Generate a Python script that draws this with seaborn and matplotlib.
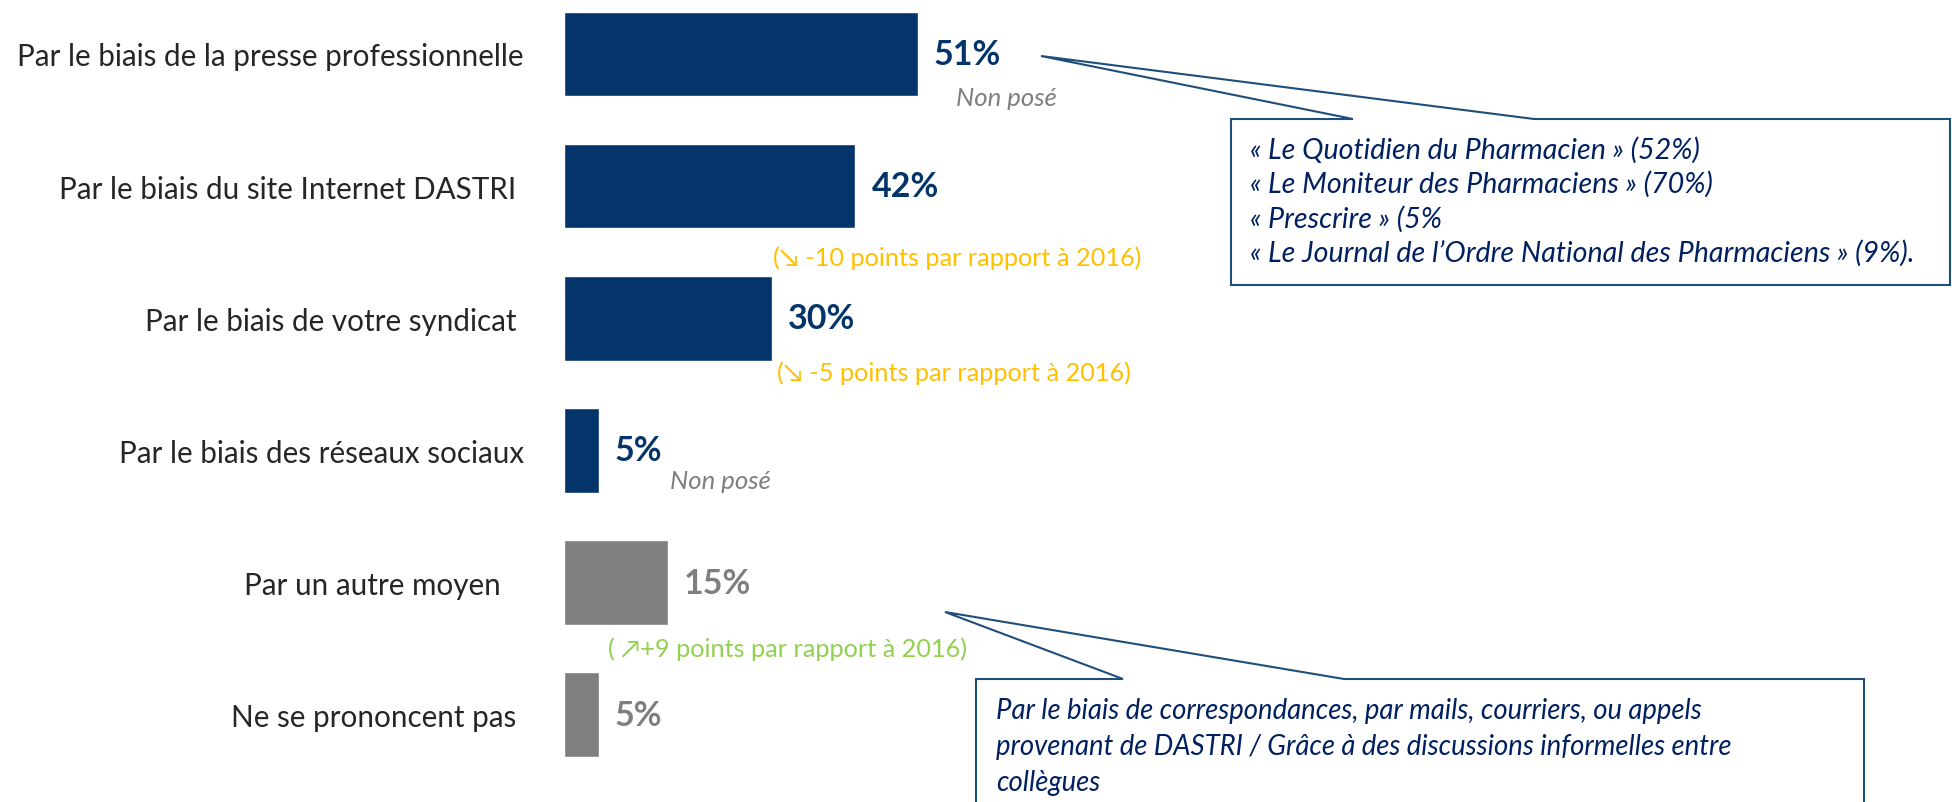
import matplotlib
matplotlib.use('Agg')
import matplotlib.pyplot as plt
from matplotlib.patches import Polygon
import seaborn as sns
import pandas as pd

categories = ['Par le biais de la presse professionnelle',
              'Par le biais du site Internet DASTRI ',
              'Par le biais de votre syndicat ',
              'Par le biais des réseaux sociaux',
              'Par un autre moyen   ',
              'Ne se prononcent pas ']
values = [51, 42, 30, 5, 15, 5]
bar_colors = ['#03356A', '#03356A', '#03356A', '#03356A', '#7F7F7F', '#7F7F7F']

evolutions = ['(\u2198 -10 points par rapport à 2016)',
              '(\u2198 -5 points par rapport à 2016)',
              '( \u2197+9 points par rapport à 2016)']
evo_colors = ['#FFC000', '#FFC000', '#92D050']

press_titles = ['« Le Quotidien du Pharmacien » (52%)',
                '« Le Moniteur des Pharmaciens » (70%)',
                '« Prescrire » (5%',
                '« Le Journal de l\u2019Ordre National des Pharmaciens » (9%).']
other_text = ['Par le biais de correspondances, par mails, courriers, ou appels',
              'provenant de DASTRI / Grâce à des discussions informelles entre',
              'collègues']

df = pd.DataFrame({'cat': categories, 'val': values})

sns.set_style('white')
plt.rcParams['font.family'] = ['Lato', 'DejaVu Sans']

W, H = 1952, 803
fig = plt.figure(figsize=(W / 100, H / 100), dpi=100)
ax = fig.add_axes([564 / W, 0, (W - 564) / W, 1])

sns.barplot(data=df, x='val', y='cat', hue='cat', palette=bar_colors,
            order=categories, width=0.64, legend=False, ax=ax, saturation=1)
ax.set_xlim(0, (W - 564) / 6.94)
ax.set_ylim(5.66, -0.415)
ax.set_xlabel('')
ax.set_ylabel('')
ax.set_xticks([])
sns.despine(ax=ax, left=True, bottom=True)
ax.tick_params(axis='y', length=0, pad=29, labelsize=21.3, labelcolor='#262626')

for i, v in enumerate(values):
    ax.annotate(f'{v}%', xy=(v, i), xytext=(11.5, 0), textcoords='offset points',
                ha='left', va='center', fontsize=24.5, fontweight='bold',
                color=bar_colors[i])

# "Non posé" notes
for x, y in [(63.8, 0.33), (22.6, 3.23)]:
    ax.text(x, y, 'Non posé', ha='center', va='center', fontsize=18.5,
            style='italic', color='#7F7F7F')

# evolution notes
for (x, y), txt, c in zip([(56.7, 1.537), (56.2, 2.41), (32.2, 4.50)], evolutions, evo_colors):
    ax.text(x, y, txt, ha='center', va='center', fontsize=18.2, color=c)


def px(x, y):
    return (x / W, 1 - y / H)


def callout(tip, left, top, right, bottom, j1, j2):
    pts = [px(left, top), px(j1, top), px(*tip), px(j2, top), px(right, top),
           px(right, bottom), px(left, bottom)]
    fig.patches.append(Polygon(pts, closed=True, transform=fig.transFigure,
                               facecolor='white', edgecolor='#1F4E79', linewidth=1.5))


callout((1041, 57), 1231, 120, 1950, 286, 1353, 1534)
callout((945, 613), 976, 680, 1864, 830, 1123, 1344)

for k, line in enumerate(press_titles):
    fig.text(1250 / W, 1 - (150 + 34.5 * k) / H, line, ha='left', va='center',
             fontsize=20.6, style='italic', color='#002060')
for k, line in enumerate(other_text):
    fig.text(996 / W, 1 - (711 + 36 * k) / H, line, ha='left', va='center',
             fontsize=19.8, style='italic', color='#002060')

fig.savefig('out.png', dpi=100)
